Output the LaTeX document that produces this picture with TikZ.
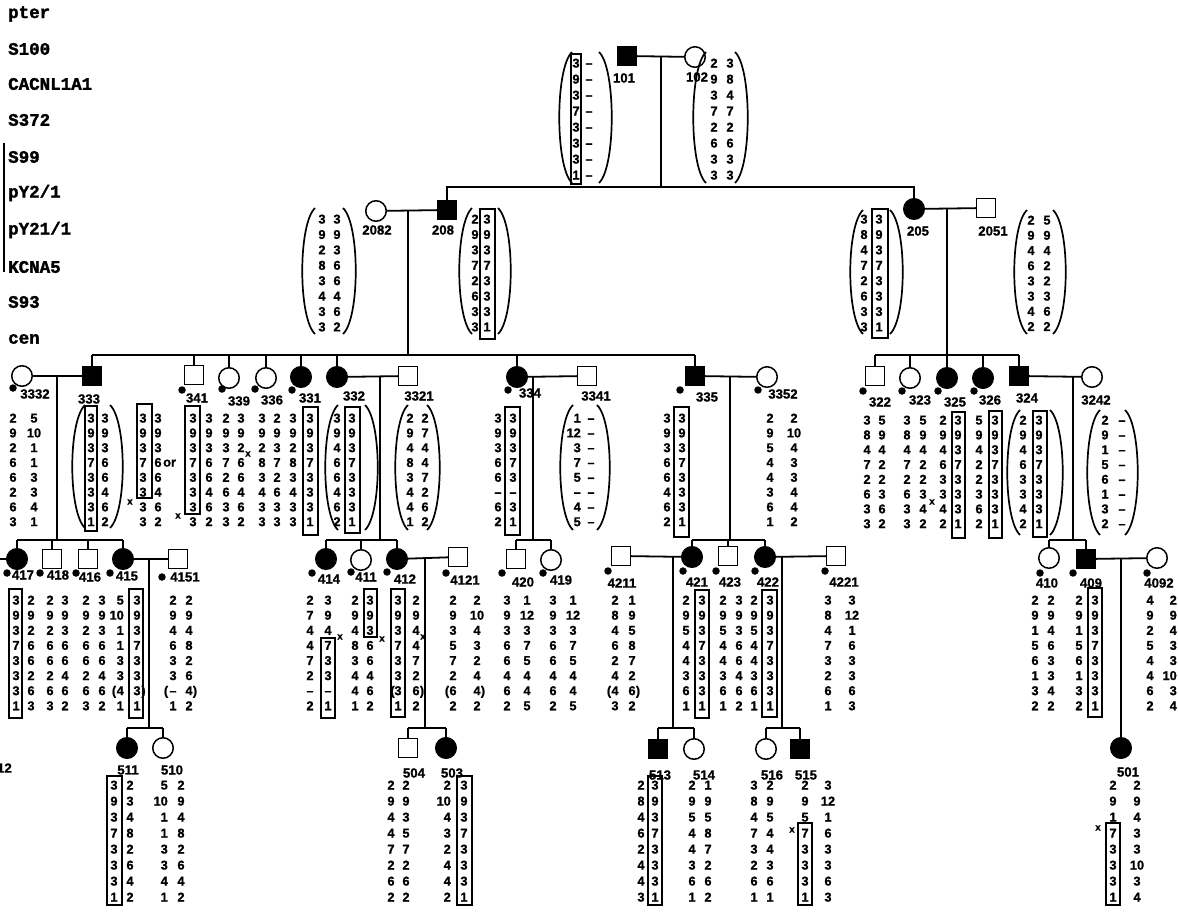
\documentclass[tikz,border=0pt]{standalone}
\usepackage{fontspec}
\setmainfont{Liberation Sans}
\newfontfamily\monob{Liberation Mono Bold}[FakeBold=1.8]
\newfontfamily\sansb{Liberation Sans Bold}[FakeBold=1.0]
\newcommand\numfnt{\sansb\fontsize{12.8}{12.8}\selectfont}
\newcommand\labfnt{\sansb\fontsize{13.2}{13.2}\selectfont}
\newcommand\locfnt{\monob\fontsize{17.5}{17.5}\selectfont}
\newcommand\xfnt{\sansb\fontsize{10}{10}\selectfont}
\newcommand\dsh{\textendash}
\tikzset{
  ped/.style={line width=1.8pt},
  sym/.style={draw, line width=1.5pt, inner sep=0pt, outer sep=0pt},
  male/.style={sym, rectangle, minimum size=19pt},
  female/.style={sym, circle, minimum size=20.5pt},
  aff/.style={fill=black},
  lab/.style={font=\labfnt, inner sep=0pt},
  num/.style={font=\numfnt, inner sep=0pt, text height=9.1pt, text depth=0pt},
  loc/.style={font=\locfnt, inner sep=0pt, anchor=west},
  xm/.style={font=\xfnt, inner sep=0pt},
  hap/.style={draw, line width=1.4pt},
  par/.style={line width=1.7pt},
  pdot/.style={circle, fill=black, inner sep=0pt, minimum size=7.5pt},
}
\newcommand\dcol[5][center]{\foreach \v [count=\i from 0] in {#5}{\node[num, anchor=#1] (d#2r\i) at (#2,#3+\i*#4) {\v};}}
\newcommand\lpar[3]{\draw[par] (#1,#2) .. controls (#1-17,#2+16) and (#1-17,#3-16) .. (#1,#3);}
\newcommand\rpar[3]{\draw[par] (#1,#2) .. controls (#1+17,#2+16) and (#1+17,#3-16) .. (#1,#3);}
\begin{document}
\begin{tikzpicture}[x=1pt, y=-1pt]
\fill[white] (0,0) rectangle (1178,915);
\useasboundingbox (0,0) rectangle (1178,915);

% ---------------- loci ----------------
\node[loc] (L1) at (8,14) {pter};
\node[loc] (L2) at (8,49) {S100};
\node[loc] (L3) at (8,84) {CACNL1A1};
\node[loc] (L4) at (8,120) {S372};
\node[loc] (L5) at (8,157) {S99};
\node[loc] (L6) at (8,193) {pY2/1};
\node[loc] (L7) at (8,230) {pY21/1};
\node[loc] (L8) at (8,267) {KCNA5};
\node[loc] (L9) at (8,302) {S93};
\node[loc] (L10) at (8,339) {cen};
\draw[line width=1.4pt] (4,143) -- (4,272);

% ---------------- generation 1 ----------------
\node[male, aff] (n101) at (627,56) {};
\node[female] (n102) at (695,57) {};
\node[lab] (l101) at (624,78) {101};
\node[lab] (l102) at (697,77) {102};
\draw[ped] (n101) -- (n102);
\coordinate (m1) at (661,56);
\coordinate (s1) at (661,187);

\dcol{576}{63}{16}{3,9,3,7,3,3,3,1}
\dcol{589}{63}{16}{\dsh,\dsh,\dsh,\dsh,\dsh,\dsh,\dsh,\dsh}
\draw[hap] (571,54) rectangle (581,184);
\lpar{572}{52}{183} \rpar{599}{52}{183}
\dcol{714}{63}{16}{2,9,3,7,2,6,3,3}
\dcol{730}{63}{16}{3,8,4,7,2,6,3,3}
\lpar{706}{52}{183} \rpar{735}{52}{183}

% ---------------- generation 2 ----------------
\node[female] (n2082) at (376,211) {};
\node[male, aff] (n208) at (447,210) {};
\node[female, aff] (n205) at (914,209) {};
\node[male] (n2051) at (986,208) {};
\node[lab] (l2082) at (377,230) {2082};
\node[lab] (l208) at (443,230) {208};
\node[lab] (l205) at (918,231) {205};
\node[lab] (l2051) at (993,231) {2051};
\draw[ped] (m1) -- (s1);
\draw[ped] (n208) -- (n208|-s1) -- (n205|-s1) -- (n205);
\draw[ped] (n2082) -- (n208);
\draw[ped] (n205) -- (n2051);

\dcol{322}{219}{15.4}{3,9,2,8,3,4,3,3}
\dcol{337}{219}{15.4}{3,9,3,6,6,4,6,2}
\lpar{315}{208}{334} \rpar{343}{208}{334}
\dcol{475}{219}{15.4}{2,9,3,7,2,6,3,3}
\dcol{487}{219}{15.4}{3,9,3,7,3,3,3,1}
\draw[hap] (480,209) rectangle (495,339);
\lpar{472}{208}{334} \rpar{498}{208}{334}
\dcol{864}{219}{15.4}{3,8,4,7,2,6,3,3}
\dcol{879}{219}{15.4}{3,9,3,7,3,3,3,1}
\draw[hap] (872,209) rectangle (888,338);
\lpar{863}{210}{334} \rpar{890}{210}{334}
\dcol{1031}{220}{15.2}{2,9,4,6,3,3,4,2}
\dcol{1047}{220}{15.2}{5,9,4,2,2,3,6,2}
\lpar{1027}{210}{334} \rpar{1053}{210}{334}

\coordinate (m2a) at (408,211);
\coordinate (s2a) at (408,355);
\coordinate (m2b) at (947,208);
\coordinate (s2b) at (947,355);
\draw[ped] (m2a) -- (s2a);
\draw[ped] (m2b) -- (s2b);

% ---------------- generation 3 ----------------
\node[female] (n3332) at (22,376) {};
\node[male, aff] (n333) at (92,376) {};
\node[male] (n341) at (194,375) {};
\node[female] (n339) at (229,378) {};
\node[female] (n336) at (266,378) {};
\node[female, aff] (n331) at (301,377) {};
\node[female, aff] (n332) at (337,377) {};
\node[male] (n3321) at (408,376) {};
\node[female, aff] (n334) at (517,377) {};
\node[male] (n3341) at (587,376) {};
\node[male, aff] (n335) at (695,376) {};
\node[female] (n3352) at (767,377) {};
\node[male] (n322) at (875,376) {};
\node[female] (n323) at (910,378) {};
\node[female, aff] (n325) at (947,378) {};
\node[female, aff] (n326) at (983,378) {};
\node[male, aff] (n324) at (1019,376) {};
\node[female] (n3242) at (1092,377) {};

\draw[ped] (n333|-s2a) -- (n335|-s2a);
\foreach \c in {n333,n341,n339,n336,n331,n332,n334,n335} \draw[ped] (\c) -- (\c|-s2a);
\draw[ped] (n322|-s2b) -- (n324|-s2b);
\foreach \c in {n322,n323,n325,n326,n324} \draw[ped] (\c) -- (\c|-s2b);
\draw[ped] (n3332) -- (n333);
\draw[ped] (n332) -- (n3321);
\draw[ped] (n334) -- (n3341);
\draw[ped] (n335) -- (n3352);
\draw[ped] (n324) -- (n3242);

\node[lab] (l3332) at (35,394) {3332};
\node[lab] (l333) at (89,399) {333};
\node[lab] (l341) at (197,398) {341};
\node[lab] (l339) at (239,401) {339};
\node[lab] (l336) at (272,400) {336};
\node[lab] (l331) at (310,398) {331};
\node[lab] (l332) at (354,396) {332};
\node[lab] (l3321) at (419,396) {3321};
\node[lab] (l334) at (530,393) {334};
\node[lab] (l3341) at (596,396) {3341};
\node[lab] (l335) at (707,397) {335};
\node[lab] (l3352) at (783,394) {3352};
\node[lab] (l322) at (880,402) {322};
\node[lab] (l323) at (920,400) {323};
\node[lab] (l325) at (955,402) {325};
\node[lab] (l326) at (990,400) {326};
\node[lab] (l324) at (1027,398) {324};
\node[lab] (l3242) at (1096,400) {3242};

\node[pdot] (p3332) at (13,388) {};
\node[pdot] (p341) at (182,390) {};
\node[pdot] (p339) at (222,389) {};
\node[pdot] (p336) at (255,389) {};
\node[pdot] (p331) at (292,390) {};
\node[pdot] (p334) at (508,390) {};
\node[pdot] (p335) at (680,390) {};
\node[pdot] (p3352) at (758,390) {};
\node[pdot] (p322) at (863,391) {};
\node[pdot] (p323) at (902,391) {};
\node[pdot] (p325) at (938,391) {};
\node[pdot] (p326) at (974,391) {};

% data gen 3
\dcol{13}{418}{14.8}{2,9,2,6,6,2,6,3}
\dcol{34}{418}{14.8}{5,10,1,1,3,3,4,1}
\dcol{91}{418}{14.8}{3,9,3,7,3,3,3,1}
\dcol{105}{418}{14.8}{3,9,3,6,6,4,6,2}
\draw[hap] (85,406) rectangle (97,531);
\lpar{85}{405}{528} \rpar{110}{405}{528}
\dcol{143}{418}{14.8}{3,9,3,7,3,3,3,3}
\dcol{158}{418}{14.8}{3,9,3,6,6,4,6,2}
\draw[hap] (137,404) rectangle (152,498);
\node[num, anchor=west] (or1) at (163,462) {or};
\node[xm] (x1) at (130,502) {x};
\dcol{193}{418}{14.8}{3,9,3,7,3,3,3,3}
\dcol{209}{418}{14.8}{3,9,3,6,6,4,6,2}
\draw[hap] (185,406) rectangle (200,514);
\node[xm] (x2) at (178,516) {x};
\dcol{226}{418}{14.8}{2,9,3,7,2,6,3,3}
\dcol{241}{418}{14.8}{3,9,2,6,6,4,6,2}
\node[xm] (x3) at (248,454) {x};
\dcol{262}{418}{14.8}{3,9,2,8,3,4,3,3}
\dcol{277}{418}{14.8}{2,9,3,7,2,6,3,3}
\dcol{293}{418}{14.8}{3,9,2,8,3,4,3,3}
\dcol{310}{418}{14.8}{3,9,3,7,3,3,3,1}
\draw[hap] (303,407) rectangle (318,535);
\dcol{337}{418}{14.8}{3,9,4,6,6,4,6,2}
\dcol{352}{418}{14.8}{3,9,3,7,3,3,3,1}
\draw[hap] (345,407) rectangle (360,533);
\lpar{338}{405}{530} \rpar{365}{405}{530}
\dcol{410}{418}{14.8}{2,9,4,8,3,4,4,1}
\dcol{425}{418}{14.8}{2,7,4,4,7,2,6,2}
\lpar{408}{405}{530} \rpar{427}{405}{530}
\dcol{498}{418}{14.8}{3,9,3,6,6,\dsh,6,2}
\dcol{513}{418}{14.8}{3,9,3,7,3,\dsh,3,1}
\draw[hap] (505,407) rectangle (520,535);
\dcol[east]{581}{418}{14.8}{1,12,3,7,5,\dsh,4,5}
\dcol{591}{418}{14.8}{\dsh,\dsh,\dsh,\dsh,\dsh,\dsh,\dsh,\dsh}
\lpar{573}{405}{530} \rpar{597}{405}{530}
\dcol{667}{418}{14.8}{3,9,3,6,6,4,6,2}
\dcol{682}{418}{14.8}{3,9,3,7,3,3,3,1}
\draw[hap] (674,407) rectangle (689,537);
\dcol{770}{418}{14.8}{2,9,5,4,4,3,6,1}
\dcol{794}{418}{14.8}{2,10,4,3,3,4,4,2}
\dcol{867}{420}{14.8}{3,8,4,7,2,6,3,3}
\dcol{882}{420}{14.8}{5,9,4,2,2,3,6,2}
\dcol{907}{420}{14.8}{3,8,4,7,2,6,3,3}
\dcol{923}{420}{14.8}{5,9,4,2,2,3,4,2}
\node[xm] (x4) at (932,502) {x};
\dcol{943}{420}{14.8}{2,9,4,6,3,3,4,2}
\dcol{958}{420}{14.8}{3,9,3,7,3,3,3,1}
\draw[hap] (952,412) rectangle (965,538);
\dcol{979}{420}{14.8}{5,9,4,2,2,3,6,2}
\dcol{995}{420}{14.8}{3,9,3,7,3,3,3,1}
\draw[hap] (989,411) rectangle (1002,538);
\dcol{1023}{420}{14.8}{2,9,4,6,3,3,4,2}
\dcol{1039}{420}{14.8}{3,9,3,7,3,3,3,1}
\draw[hap] (1033,411) rectangle (1047,537);
\lpar{1020}{410}{535} \rpar{1050}{410}{535}
\dcol{1105}{420}{14.8}{2,9,1,5,6,1,3,2}
\dcol{1122}{420}{14.8}{\dsh,\dsh,\dsh,\dsh,\dsh,\dsh,\dsh,\dsh}
\lpar{1100}{410}{535} \rpar{1125}{410}{535}

% descents gen 3 -> gen 4
\coordinate (m3a) at (57,376);   \coordinate (s3a) at (57,540);
\coordinate (m3b) at (380,376);  \coordinate (s3b) at (380,540);
\coordinate (m3c) at (533,376);  \coordinate (s3c) at (533,540);
\coordinate (m3d) at (730,376);  \coordinate (s3d) at (730,540);
\coordinate (m3e) at (1073,377); \coordinate (s3e) at (1073,540);
\foreach \a/\b in {m3a/s3a,m3b/s3b,m3c/s3c,m3d/s3d,m3e/s3e} \draw[ped] (\a) -- (\b);

% ---------------- generation 4 ----------------
\node[female, aff] (n417) at (17,559) {};
\node[male] (n418) at (52,559) {};
\node[male] (n416) at (88,559) {};
\node[female, aff] (n415) at (123,559) {};
\node[male] (n4151) at (178,559) {};
\node[female, aff] (n414) at (326,559) {};
\node[female] (n411) at (361,560) {};
\node[female, aff] (n412) at (397,559) {};
\node[male] (n4121) at (458,557) {};
\node[male] (n420) at (516,559) {};
\node[female] (n419) at (551,560) {};
\node[male] (n4211) at (621,556) {};
\node[female, aff] (n421) at (692,557) {};
\node[male] (n423) at (728,556) {};
\node[female, aff] (n422) at (765,557) {};
\node[male] (n4221) at (836,556) {};
\node[female] (n410) at (1049,558) {};
\node[male, aff] (n409) at (1086,559) {};
\node[female] (n4092) at (1157,558) {};
\coordinate (edge417) at (0,559);

\draw[ped] (n417|-s3a) -- (n415|-s3a);
\foreach \c in {n417,n418,n416,n415} \draw[ped] (\c) -- (\c|-s3a);
\draw[ped] (n414|-s3b) -- (n412|-s3b);
\foreach \c in {n414,n411,n412} \draw[ped] (\c) -- (\c|-s3b);
\draw[ped] (n420|-s3c) -- (n419|-s3c);
\foreach \c in {n420,n419} \draw[ped] (\c) -- (\c|-s3c);
\draw[ped] (n421|-s3d) -- (n422|-s3d);
\foreach \c in {n421,n423,n422} \draw[ped] (\c) -- (\c|-s3d);
\draw[ped] (n410|-s3e) -- (n409|-s3e);
\foreach \c in {n410,n409} \draw[ped] (\c) -- (\c|-s3e);
\draw[ped] (n417) -- (edge417);
\draw[ped] (n415) -- (n4151);
\draw[ped] (n412) -- (n4121);
\draw[ped] (n4211) -- (n421);
\draw[ped] (n422) -- (n4221);
\draw[ped] (n409) -- (n4092);

\node[lab] (l417) at (23,575) {417};
\node[lab] (l418) at (58,575) {418};
\node[lab] (l416) at (90,577) {416};
\node[lab] (l415) at (127,576) {415};
\node[lab] (l4151) at (185,577) {4151};
\node[lab] (l414) at (329,579) {414};
\node[lab] (l411) at (366,577) {411};
\node[lab] (l412) at (405,579) {412};
\node[lab] (l4121) at (465,580) {4121};
\node[lab] (l420) at (523,582) {420};
\node[lab] (l419) at (561,580) {419};
\node[lab] (l4211) at (622,583) {4211};
\node[lab] (l421) at (697,582) {421};
\node[lab] (l423) at (730,582) {423};
\node[lab] (l422) at (768,582) {422};
\node[lab] (l4221) at (844,582) {4221};
\node[lab] (l410) at (1047,583) {410};
\node[lab] (l409) at (1091,583) {409};
\node[lab] (l4092) at (1159,583) {4092};

\node[pdot] (p417) at (7,573) {};
\node[pdot] (p418) at (40,573) {};
\node[pdot] (p416) at (76,573) {};
\node[pdot] (p415) at (110,573) {};
\node[pdot] (p4151) at (162,577) {};
\node[pdot] (p414) at (312,573) {};
\node[pdot] (p411) at (351,572) {};
\node[pdot] (p412) at (387,572) {};
\node[pdot] (p4121) at (446,573) {};
\node[pdot] (p420) at (502,573) {};
\node[pdot] (p419) at (543,573) {};
\node[pdot] (p4211) at (608,571) {};
\node[pdot] (p421) at (683,571) {};
\node[pdot] (p423) at (716,571) {};
\node[pdot] (p422) at (755,571) {};
\node[pdot] (p4221) at (825,571) {};
\node[pdot] (p410) at (1040,573) {};
\node[pdot] (p409) at (1073,573) {};
\node[pdot] (p4092) at (1147,573) {};

% data gen 4
\dcol{16}{600}{15.1}{3,9,3,7,3,3,3,1}
\dcol{31}{600}{15.1}{2,9,2,6,6,2,6,3}
\draw[hap] (9,589) rectangle (22,718);
\dcol{50}{600}{15.1}{2,9,2,6,6,2,6,3}
\dcol{65}{600}{15.1}{3,9,3,6,6,4,6,2}
\dcol{86}{600}{15.1}{2,9,2,6,6,2,6,3}
\dcol{102}{600}{15.1}{3,9,3,6,6,4,6,2}
\dcol[east]{124}{600}{15.1}{5,10,1,1,3,3,4,1}
\node[num] (q1) at (114,690.6) {(};
\dcol{137}{600}{15.1}{3,9,3,7,3,3,3,1}
\node[num] (q2) at (143.5,690.6) {)};
\draw[hap] (129,589) rectangle (143,718);
\dcol{173}{600}{15.1}{2,9,4,6,3,3,\dsh,1}
\dcol{189}{600}{15.1}{2,9,4,8,2,6,4,2}
\node[num] (q3) at (166,690.6) {(};
\node[num] (q4) at (195,690.6) {)};
\dcol{310}{600}{15.1}{2,7,4,4,7,2,\dsh,2}
\dcol{328}{600}{15.1}{3,9,4,7,3,3,\dsh,1}
\draw[hap] (321,638) rectangle (335,718);
\node[xm] (x5) at (340,637) {x};
\dcol{355}{600}{15.1}{2,9,4,8,3,4,4,1}
\dcol{370}{600}{15.1}{3,9,3,6,6,4,6,2}
\draw[hap] (364,589) rectangle (377,637);
\node[xm] (x6) at (382,639) {x};
\dcol{398}{600}{15.1}{3,9,3,7,3,3,3,1}
\dcol{416}{600}{15.1}{2,9,4,4,7,2,6,2}
\draw[hap] (391,589) rectangle (405,717);
\node[num] (q5) at (392.5,690.6) {(};
\node[num] (q6) at (422,690.6) {)};
\node[xm] (x7) at (423,637) {x};
\dcol{453}{600}{15.1}{2,9,3,5,7,2,6,2}
\dcol{477}{600}{15.1}{2,10,4,3,2,4,4,2}
\node[num] (q7) at (447,690.6) {(};
\node[num] (q8) at (483,690.6) {)};
\dcol{507}{600}{15.1}{3,9,3,6,6,4,6,2}
\dcol{527}{600}{15.1}{1,12,3,7,5,4,4,5}
\dcol{553}{600}{15.1}{3,9,3,6,6,4,6,2}
\dcol{573}{600}{15.1}{1,12,3,7,5,4,4,5}
\dcol{615}{600}{15.1}{2,8,4,6,2,4,4,3}
\dcol{632}{600}{15.1}{1,9,5,8,7,2,6,2}
\node[num] (q9) at (609,690.6) {(};
\node[num] (q10) at (638,690.6) {)};
\dcol{686}{600}{15.1}{2,9,5,4,4,3,6,1}
\dcol{702}{600}{15.1}{3,9,3,7,3,3,3,1}
\draw[hap] (695,590) rectangle (709,718);
\dcol{723}{600}{15.1}{2,9,5,4,4,3,6,1}
\dcol{739}{600}{15.1}{3,9,3,6,6,4,6,2}
\dcol{754}{600}{15.1}{2,9,5,4,4,3,6,1}
\dcol{770}{600}{15.1}{3,9,3,7,3,3,3,1}
\draw[hap] (762,590) rectangle (777,717);
\dcol{828}{600}{15.1}{3,8,4,7,3,2,6,1}
\dcol{852}{600}{15.1}{3,12,1,6,3,3,6,3}
\dcol{1035}{600}{15.1}{2,9,1,5,6,1,3,2}
\dcol{1051}{600}{15.1}{2,9,4,6,3,3,4,2}
\dcol{1079}{600}{15.1}{2,9,1,5,6,1,3,2}
\dcol{1095}{600}{15.1}{3,9,3,7,3,3,3,1}
\draw[hap] (1088,588) rectangle (1102,717);
\dcol{1150}{600}{15.1}{4,9,2,5,4,4,6,2}
\dcol[east]{1177}{600}{15.1}{2,9,4,3,3,10,3,4}

% descents gen 4 -> gen 5
\coordinate (m4a) at (149,559);  \coordinate (s4a) at (149,728);
\coordinate (m4b) at (425,558);  \coordinate (s4b) at (425,728);
\coordinate (m4c) at (673,557);  \coordinate (s4c) at (673,728);
\coordinate (m4d) at (782,557);  \coordinate (s4d) at (782,728);
\coordinate (m4e) at (1121,558);
\foreach \a/\b in {m4a/s4a,m4b/s4b,m4c/s4c,m4d/s4d} \draw[ped] (\a) -- (\b);

% ---------------- generation 5 ----------------
\node[female, aff] (n511) at (127,748) {};
\node[female] (n510) at (163,748) {};
\node[male] (n504) at (408,748) {};
\node[female, aff] (n503) at (446,748) {};
\node[male, aff] (n513) at (658,749) {};
\node[female] (n514) at (694,749) {};
\node[female] (n516) at (766,749) {};
\node[male, aff] (n515) at (800,749) {};
\node[female, aff] (n501) at (1121,748) {};
\draw[ped] (n511|-s4a) -- (n510|-s4a);
\foreach \c in {n511,n510} \draw[ped] (\c) -- (\c|-s4a);
\draw[ped] (n504|-s4b) -- (n503|-s4b);
\foreach \c in {n504,n503} \draw[ped] (\c) -- (\c|-s4b);
\draw[ped] (n513|-s4c) -- (n514|-s4c);
\foreach \c in {n513,n514} \draw[ped] (\c) -- (\c|-s4c);
\draw[ped] (n516|-s4d) -- (n515|-s4d);
\foreach \c in {n516,n515} \draw[ped] (\c) -- (\c|-s4d);
\draw[ped] (m4e) -- (n501);

\node[lab] (l511) at (128,770) {511};
\node[lab] (l510) at (172,770) {510};
\node[lab] (l504) at (414,773) {504};
\node[lab] (l503) at (452,773) {503};
\node[lab] (l513) at (660,775) {513};
\node[lab] (l514) at (704,775) {514};
\node[lab] (l516) at (772,775) {516};
\node[lab] (l515) at (806,775) {515};
\node[lab] (l501) at (1128,772) {501};
\node[lab, anchor=east] (lcut) at (12,768) {12};

\dcol{114}{785}{16}{3,9,3,7,3,3,3,1}
\dcol{130}{785}{16}{2,3,4,8,2,6,4,2}
\draw[hap] (107,776) rectangle (122,905);
\dcol[east]{168}{785}{16}{5,10,1,1,3,3,4,1}
\dcol{181}{785}{16}{2,9,4,8,2,6,4,2}
\dcol{391}{785}{16}{2,9,4,4,7,2,6,2}
\dcol{406}{785}{16}{2,9,3,5,7,2,6,2}
\dcol[east]{451}{785}{16}{2,10,4,3,2,4,4,2}
\dcol{464}{785}{16}{3,9,3,7,3,3,3,1}
\draw[hap] (457,776) rectangle (472,905);
\dcol{641}{785}{16}{2,8,4,6,2,4,4,3}
\dcol{655}{785}{16}{3,9,3,7,3,3,3,1}
\draw[hap] (648,776) rectangle (662,905);
\dcol{692}{785}{16}{2,9,5,4,4,3,6,1}
\dcol{708}{785}{16}{1,9,5,8,7,2,6,2}
\dcol{754}{785}{16}{3,8,4,7,3,2,6,1}
\dcol{770}{785}{16}{2,9,5,4,4,3,6,1}
\dcol{805}{785}{16}{2,9,5,7,3,3,3,1}
\dcol{828}{785}{16}{3,12,1,6,3,3,6,3}
\draw[hap] (798,823) rectangle (812,905);
\node[xm] (x8) at (792,830) {x};
\dcol{1113}{785}{16}{2,9,1,7,3,3,3,1}
\dcol{1137}{785}{16}{2,9,4,3,3,10,3,4}
\draw[hap] (1106,823) rectangle (1120,905);
\node[xm] (x9) at (1098,828) {x};
\end{tikzpicture}
\end{document}
